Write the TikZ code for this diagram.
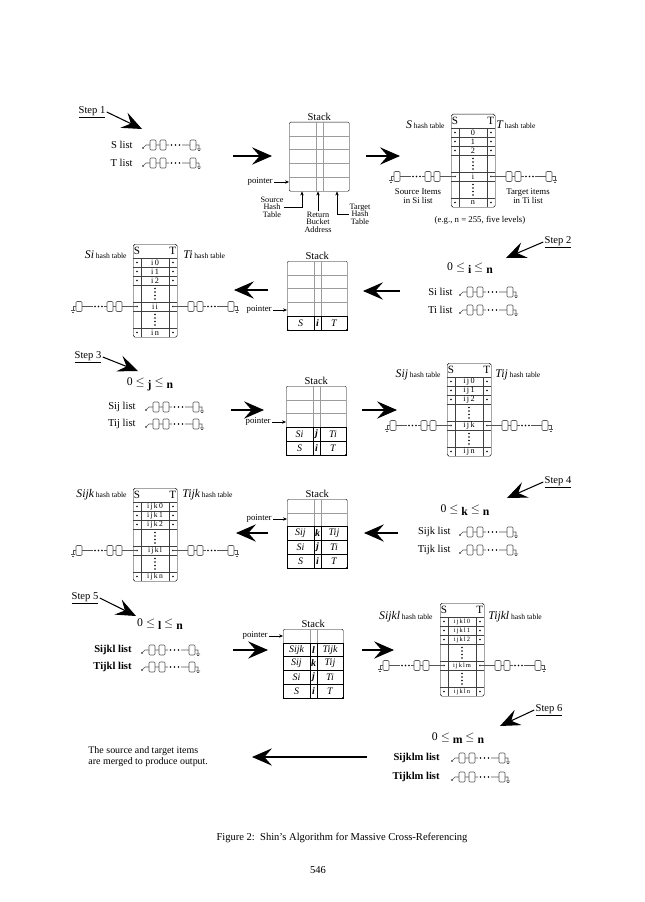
\documentclass[tikz,border=0pt]{standalone}
\usepackage{fontspec}
\setmainfont{Liberation Serif}
\usetikzlibrary{arrows.meta,positioning,calc}
\definecolor{listgray}{HTML}{555555}
\definecolor{rulegray}{HTML}{9C9C9C}

% italic table letter in the hash table labels
\newcommand{\hl}[1]{{\fontsize{10}{10}\selectfont\itshape #1}}
% lowered bold index in the ranges
\newcommand{\lo}[1]{\raisebox{-2.5pt}{\textbf{#1}}}

% empty stack: name, left x, top y
\newcommand{\stackbox}[3]{%
  \node[stackbox, anchor=north west] (#1) at (#2,#3) {};
  \node[lbl, anchor=south] (#1title) at (#1.north) {Stack};
  \foreach \r in {1,...,4}
    \draw[rowline] (#2,#3+\r*13.8) -- ++(60,0);
  \draw[rowline] (#2+27,#3) -- ++(0,69);
  \draw[rowline] (#2+34,#3) -- ++(0,69);
}
% filled stack row: stack, row, left, middle, right
\newcommand{\stackrow}[5]{%
  \draw[rowdark] ($(#1.north west)+(0,{(#2-1)*13.8})$) rectangle ($(#1.north east)+(0,{#2*13.8})$);
  \draw[rowdark] ($(#1.north west)+(27,{(#2-1)*13.8})$) -- ++(0,13.8);
  \draw[rowdark] ($(#1.north west)+(34,{(#2-1)*13.8})$) -- ++(0,13.8);
  \node[cell] (#1l#2) at ($(#1.north west)+(13.5,{(#2-0.5)*13.8})$) {#3};
  \node[cell] (#1m#2) at ($(#1.north west)+(30.5,{(#2-0.5)*13.8})$) {\bfseries #4};
  \node[cell] (#1r#2) at ($(#1.north west)+(47,{(#2-0.5)*13.8})$) {#5};
}
% hash table: name, left x, top y, rows 0/1/2, middle row, last row
\newcommand{\hashtab}[8]{%
  \node[hashbox, anchor=north west] (#1) at (#2,#3) {};
  \node[hdr, anchor=west] (#1S) at (#2,#3+6.5) {S};
  \node[hdr, anchor=east] (#1T) at (#2+44,#3+6.5) {T};
  \foreach \yy in {14,23,32,41,58,67,84}
    \draw[tabline] (#2,#3+\yy) -- ++(44,0);
  \draw[tabline] (#2+8,#3+14) -- ++(0,79);
  \draw[tabline] (#2+36,#3+14) -- ++(0,79);
  \foreach \yy in {18.5,27.5,36.5,62.5,88.5} {
    \fill (#2+4,#3+\yy) circle (0.9);
    \fill (#2+40,#3+\yy) circle (0.9);
  }
  \foreach \yy in {44.5,48,51.5,55,70.5,74,77.5,81}
    \fill (#2+22,#3+\yy) circle (0.8);
  \node[cellt] (#1a) at (#2+22,#3+18.5) {#4};
  \node[cellt] (#1b) at (#2+22,#3+27.5) {#5};
  \node[cellt] (#1c) at (#2+22,#3+36.5) {#6};
  \node[cellt] (#1m) at (#2+22,#3+62.5) {#7};
  \node[cellt] (#1n) at (#2+22,#3+88.5) {#8};
  \pic[xscale=-1] at (#2+4,#3+62.5) {chainicon};
  \pic at (#2+40,#3+62.5) {chainicon};
}

\begin{document}
\begin{tikzpicture}[
    x=0.03cm, y=-0.03cm,
    font=\fontsize{9}{10}\selectfont,
    lbl/.style={inner sep=1pt},
    steplbl/.style={inner sep=1pt, font=\fontsize{9}{10}\selectfont},
    rangelbl/.style={inner sep=1pt, font=\fontsize{10}{11}\selectfont},
    hashlbl/.style={inner sep=1pt, font=\fontsize{6.5}{7}\selectfont},
    notelbl/.style={inner sep=1pt, align=center, font=\fontsize{7.5}{7.5}\selectfont},
    smalllbl/.style={inner sep=0.5pt, align=center, font=\fontsize{7}{6.5}\selectfont},
    ptrlbl/.style={inner sep=1pt, font=\fontsize{7.5}{8}\selectfont},
    stackbox/.style={draw, rounded corners=1pt, minimum width=1.8cm, minimum height=2.07cm, inner sep=0pt},
    hashbox/.style={draw, rounded corners=1.5pt, minimum width=1.32cm, minimum height=2.79cm, inner sep=0pt},
    rowline/.style={draw=rulegray, line width=0.35pt},
    rowdark/.style={draw=black, line width=0.5pt},
    tabline/.style={draw=black!75, line width=0.35pt},
    cell/.style={inner sep=0pt, font=\fontsize{8.5}{9}\selectfont\itshape},
    cellt/.style={inner sep=0pt, font=\fontsize{7}{7}\selectfont},
    hdr/.style={inner sep=0.5pt, font=\fontsize{9.5}{9.5}\selectfont},
    bigarrow/.style={-{Stealth[length=6mm, width=5.2mm, inset=2.3mm]}, line width=0.9pt},
    steparrow/.style={-{Stealth[length=6mm, width=5mm, inset=2.3mm]}, line width=0.9pt},
    ptrarrow/.style={-{Stealth[length=1.2mm, width=1mm]}, line width=0.4pt},
    uparrow/.style={-{Stealth[length=1.2mm, width=1mm]}, line width=0.4pt},
    listicon/.pic={
      \fill (0,3) circle (0.9);
      \draw[listgray, line width=0.5pt] (0,3) -- (3,0) -- (7,0) (13,0) -- (17,0) (23,0) -- (26,0)
        (39,0) -- (47,0) (53,0) -- (56,0) -- (56,4) (54,4) -- (58,4) (55,5.5) -- (57,5.5);
      \draw[listgray, line width=0.5pt, rounded corners=0.8pt] (7,-5) rectangle (13,5)
        (17,-5) rectangle (23,5) (47,-5) rectangle (53,5);
      \foreach \d in {28.5,32.5,36.5} \fill (\d,0) circle (0.8);
    },
    chainicon/.pic={
      \draw[listgray, line width=0.5pt] (0,0) -- (15,0) (21,0) -- (24,0) (30,0) -- (33,0)
        (44,0) -- (55,0) (61,0) -- (64,0) -- (64,4) (62,4) -- (66,4) (63,5.5) -- (65,5.5);
      \draw[listgray, line width=0.5pt, rounded corners=0.8pt] (15,-5) rectangle (21,5)
        (24,-5) rectangle (30,5) (55,-5) rectangle (61,5);
      \foreach \d in {35,38.5,42} \fill (\d,0) circle (0.8);
    }
]
\path[fill=white, use as bounding box] (0,0) rectangle (644,902);

% ---- Step 1
\node[steplbl] (step1) at (92,112) {\underline{Step 1}};
\coordinate (s1tip) at (142,129);
\draw[steparrow] (step1.east) -- (s1tip);
\node[lbl, anchor=east] (sl) at (134,145) {S list};
\pic at (143,145) {listicon};
\node[lbl, anchor=east] (tl) at (134,163) {T list};
\pic at (143,163) {listicon};
\coordinate (a1s) at (233,156);
\coordinate (a1e) at (272,156);
\draw[bigarrow] (a1s) -- (a1e);

\stackbox{st1}{289}{122}
\node[ptrlbl, anchor=east] (p1) at (274,182) {pointer};
\draw[ptrarrow] (p1.east) -- (p1.east -| st1.west);
\node[smalllbl] (src) at (272,207) {Source\\Hash\\Table};
\node[smalllbl] (rba) at (318,222) {Return\\Bucket\\Address};
\node[smalllbl] (tgt) at (360,214) {Target\\Hash\\Table};
\draw[uparrow] (src.east) -| ($(st1.south west)+(13,0)$);
\draw[uparrow] (rba.north) -- (rba.north |- st1.south);
\draw[uparrow] (tgt.west) -| ($(st1.south west)+(48,0)$);

\coordinate (a2s) at (366,156);
\coordinate (a2e) at (400,156);
\draw[bigarrow] (a2s) -- (a2e);
\hashtab{ht1}{451}{114}{0}{1}{2}{i}{n}
\node[hashlbl, anchor=east] (ht1sl) at (446,125) {\hl{S} hash table};
\node[hashlbl, anchor=west] (ht1tl) at (495,125) {\hl{T} hash table};
\node[notelbl] (srcitems) at (418,196) {Source Items\\in Si list};
\node[notelbl] (tgtitems) at (528,196) {Target items\\in Ti list};
\node[notelbl] (eg) at (480,220) {(e.g., n = 255, five levels)};

% ---- Step 2
\node[steplbl] (step2) at (558,242) {\underline{Step 2}};
\coordinate (s2tip) at (506,258);
\draw[steparrow] (step2.west) -- (s2tip);
\node[rangelbl] (rng2) at (470,268) {0 $\leq$ \lo{i} $\leq$ \lo{n}};
\node[lbl, anchor=east] (sil) at (454,292) {Si list};
\pic at (460,292) {listicon};
\node[lbl, anchor=east] (til) at (454,310) {Ti list};
\pic at (460,310) {listicon};
\coordinate (a3s) at (400,291);
\coordinate (a3e) at (363,291);
\draw[bigarrow] (a3s) -- (a3e);

\stackbox{st2}{287}{261}
\stackrow{st2}{5}{S}{i}{T}
\node[ptrlbl, anchor=east] (p2) at (273,310) {pointer};
\draw[ptrarrow] (p2.east) -- (p2.east -| st2.west);
\coordinate (a4s) at (268,290);
\coordinate (a4e) at (234,290);
\draw[bigarrow] (a4s) -- (a4e);
\hashtab{ht2}{133}{244}{i\,0}{i\,1}{i\,2}{i\,i}{i\,n}
\node[hashlbl, anchor=east] (ht2sl) at (128,255) {\hl{Si} hash table};
\node[hashlbl, anchor=west] (ht2tl) at (182,255) {\hl{Ti} hash table};

% ---- Step 3
\node[steplbl] (step3) at (88,357) {\underline{Step 3}};
\coordinate (s3tip) at (138,371);
\draw[steparrow] (step3.east) -- (s3tip);
\node[rangelbl] (rng3) at (150,384) {0 $\leq$ \lo{j} $\leq$ \lo{n}};
\node[lbl, anchor=east] (sijl) at (137,407) {Sij list};
\pic at (146,407) {listicon};
\node[lbl, anchor=east] (tijl) at (137,424) {Tij list};
\pic at (146,424) {listicon};
\coordinate (a5s) at (231,410);
\coordinate (a5e) at (264,410);
\draw[bigarrow] (a5s) -- (a5e);

\stackbox{st3}{286}{386}
\stackrow{st3}{4}{Si}{j}{Ti}
\stackrow{st3}{5}{S}{i}{T}
\node[ptrlbl, anchor=east] (p3) at (272,422) {pointer};
\draw[ptrarrow] (p3.east) -- (p3.east -| st3.west);
\coordinate (a6s) at (362,410);
\coordinate (a6e) at (397,410);
\draw[bigarrow] (a6s) -- (a6e);
\hashtab{ht3}{447}{363}{i\,j\,0}{i\,j\,1}{i\,j\,2}{i\,j\,k}{i\,j\,n}
\node[hashlbl, anchor=east] (ht3sl) at (442,375) {\hl{Sij} hash table};
\node[hashlbl, anchor=west] (ht3tl) at (494,375) {\hl{Tij} hash table};

% ---- Step 4
\node[steplbl] (step4) at (558,482) {\underline{Step 4}};
\coordinate (s4tip) at (507,498);
\draw[steparrow] (step4.west) -- (s4tip);
\node[rangelbl] (rng4) at (465,510) {0 $\leq$ \lo{k} $\leq$ \lo{n}};
\node[lbl, anchor=east] (sijkl) at (452,532) {Sijk list};
\pic at (460,532) {listicon};
\node[lbl, anchor=east] (tijkl) at (452,550) {Tijk list};
\pic at (460,550) {listicon};
\coordinate (a7s) at (398,533);
\coordinate (a7e) at (364,533);
\draw[bigarrow] (a7s) -- (a7e);

\stackbox{st4}{287}{499}
\stackrow{st4}{3}{Sij}{k}{Tij}
\stackrow{st4}{4}{Si}{j}{Ti}
\stackrow{st4}{5}{S}{i}{T}
\node[ptrlbl, anchor=east] (p4) at (273,519) {pointer};
\draw[ptrarrow] (p4.east) -- (p4.east -| st4.west);
\coordinate (a8s) at (268,533);
\coordinate (a8e) at (236,533);
\draw[bigarrow] (a8s) -- (a8e);
\begin{scope}[cellt/.append style={font=\fontsize{6.5}{6.5}\selectfont}]
\hashtab{ht4}{133}{488}{i\,j\,k\,0}{i\,j\,k\,1}{i\,j\,k\,2}{i\,j\,k\,l}{i\,j\,k\,n}
\end{scope}
\node[hashlbl, anchor=east] (ht4sl) at (128,495) {\hl{Sijk} hash table};
\node[hashlbl, anchor=west] (ht4tl) at (181,495) {\hl{Tijk} hash table};

% ---- Step 5
\node[steplbl] (step5) at (85,598) {\underline{Step 5}};
\coordinate (s5tip) at (136,616);
\draw[steparrow] (step5.east) -- (s5tip);
\node[rangelbl] (rng5) at (160,624) {0 $\leq$ \lo{l} $\leq$ \lo{n}};
\node[lbl, anchor=east, font=\fontsize{9}{10}\selectfont\bfseries] (sijkll) at (133,650) {Sijkl list};
\pic at (142,650) {listicon};
\node[lbl, anchor=east, font=\fontsize{9}{10}\selectfont\bfseries] (tijkll) at (133,667) {Tijkl list};
\pic at (142,667) {listicon};
\coordinate (a9s) at (233,650);
\coordinate (a9e) at (268,650);
\draw[bigarrow] (a9s) -- (a9e);

\stackbox{st5}{283}{629}
\stackrow{st5}{2}{Sijk}{l}{Tijk}
\stackrow{st5}{3}{Sij}{k}{Tij}
\stackrow{st5}{4}{Si}{j}{Ti}
\stackrow{st5}{5}{S}{i}{T}
\node[ptrlbl, anchor=east] (p5) at (269,636) {pointer};
\draw[ptrarrow] (p5.east) -- (p5.east -| st5.west);
\coordinate (a10s) at (362,650);
\coordinate (a10e) at (394,650);
\draw[bigarrow] (a10s) -- (a10e);
\begin{scope}[cellt/.append style={font=\fontsize{5.5}{5.5}\selectfont}]
\hashtab{ht5}{440}{603}{i\,j\,k\,l\,0}{i\,j\,k\,l\,1}{i\,j\,k\,l\,2}{i\,j\,k\,l\,m}{i\,j\,k\,l\,n}
\end{scope}
\node[hashlbl, anchor=east] (ht5sl) at (434,617) {\hl{Sijkl} hash table};
\node[hashlbl, anchor=west] (ht5tl) at (487,617) {\hl{Tijkl} hash table};

% ---- Step 6
\node[steplbl] (step6) at (549,710) {\underline{Step 6}};
\coordinate (s6tip) at (500,726);
\draw[steparrow] (step6.west) -- (s6tip);
\node[rangelbl] (rng6) at (458,738) {0 $\leq$ \lo{m} $\leq$ \lo{n}};
\node[lbl, anchor=east, font=\fontsize{9}{10}\selectfont\bfseries] (sijklml) at (441,758) {Sijklm list};
\pic at (452,758) {listicon};
\node[lbl, anchor=east, font=\fontsize{9}{10}\selectfont\bfseries] (tijklml) at (441,777) {Tijklm list};
\pic at (452,777) {listicon};
\node[lbl, anchor=west, align=left, font=\fontsize{8.5}{9.5}\selectfont] (merge) at (87,757)
  {The source and target items\\are merged to produce output.};
\coordinate (a11s) at (367,757);
\coordinate (a11e) at (252,757);
\draw[bigarrow] (a11s) -- (a11e);

% ---- caption
\node[lbl] (cap) at (342,838) {Figure 2:\ \ Shin's Algorithm for Massive Cross-Referencing};
\node[lbl] (pgno) at (318,870) {546};
\end{tikzpicture}
\end{document}
